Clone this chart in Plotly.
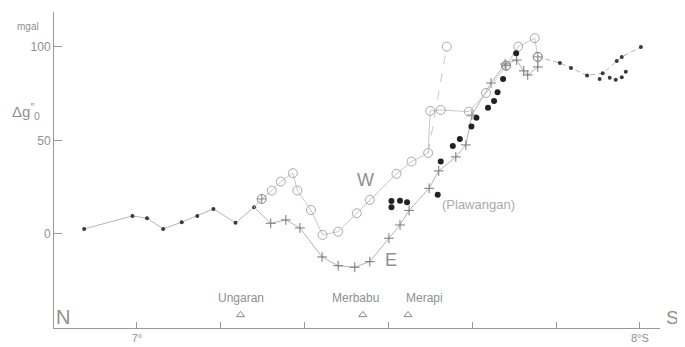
import plotly.graph_objects as go

# ---- data (latitude in degrees S, anomaly in mgal) ----
north_lat = [6.895, 6.991, 7.020, 7.052, 7.089, 7.120, 7.152, 7.196, 7.233]
north_g = [2.7, 9.6, 8.4, 2.7, 6.3, 9.6, 13.4, 6.0, 14.3]

e_lat = [7.266, 7.296, 7.324, 7.368, 7.400, 7.433, 7.463, 7.501, 7.523, 7.541,
         7.581, 7.600, 7.634, 7.654, 7.666, 7.704, 7.732, 7.755, 7.769, 7.777, 7.797]
e_g = [5.7, 7.5, 3.2, -12.3, -17.0, -17.8, -14.8, -2.3, 4.8, 12.6,
       24.4, 33.7, 41.2, 47.6, 63.6, 80.7, 90.9, 93.0, 87.2, 85.0, 89.3]

w_lat = [7.268, 7.286, 7.310, 7.319, 7.346, 7.369, 7.400, 7.437, 7.463, 7.516, 7.546, 7.579]
w_g = [23.2, 28.0, 32.5, 23.2, 12.8, -0.5, 1.2, 11.1, 18.2, 32.2, 38.7, 43.3]

w_dash_lat = [7.579, 7.616]
w_dash_g = [43.3, 100.2]

w_branch_lat = [7.583, 7.604, 7.660, 7.694, 7.734, 7.758, 7.791, 7.797]
w_branch_g = [65.8, 66.3, 65.4, 75.4, 90.0, 100.2, 104.7, 94.7]

both_lat = [7.248, 7.734, 7.797]
both_g = [18.7, 90.0, 94.7]

south_lat = [7.797, 7.841, 7.863, 7.895, 7.926, 7.954, 7.964, 8.002]
south_g = [94.7, 91.4, 88.8, 84.8, 85.9, 92.5, 94.7, 100.0]

south2_lat = [7.920, 7.940, 7.952, 7.964, 7.972]
south2_g = [82.9, 83.6, 82.4, 83.8, 86.8]

big_lat = [7.506, 7.506, 7.523, 7.537, 7.598, 7.604, 7.628, 7.642, 7.665, 7.675,
           7.698, 7.710, 7.717, 7.728, 7.754]
big_g = [17.6, 14.3, 17.8, 17.0, 20.9, 38.7, 47.1, 50.8, 57.4, 62.2,
         67.5, 71.1, 75.8, 82.9, 96.6]

volc_names = ["Ungaran", "Merbabu", "Merapi"]
volc_lat = [7.206, 7.449, 7.539]
volc_label_lat = [7.206, 7.435, 7.572]

x_tickvals = [7 + k / 6 for k in range(7)]
x_ticktext = ["7°", "", "", "", "", "", "8°S"]
y_tickvals = [0, 50, 100]
y_ticktext = ["0", "50", "100"]

LINE = "#b5b5b5"
WLINE = "#c8c8c8"
DOT = "#3a3a3a"
TXT = "#8f8f8f"
FONT = "Liberation Sans"

fig = go.Figure()

# north series
fig.add_trace(go.Scatter(x=north_lat, y=north_g, mode="lines+markers",
                         line=dict(color=LINE, width=1),
                         marker=dict(size=4, color=DOT)))
# E line (starts at end of north series)
fig.add_trace(go.Scatter(x=[north_lat[-1]] + e_lat + [both_lat[-1]],
                         y=[north_g[-1]] + e_g + [both_g[-1]], mode="lines",
                         line=dict(color=LINE, width=1)))
fig.add_trace(go.Scatter(x=e_lat, y=e_g, mode="markers",
                         marker=dict(symbol="cross-thin-open", size=7, color="#777",
                                     line=dict(color="#777", width=1))))
# W line
fig.add_trace(go.Scatter(x=[north_lat[-1], both_lat[0]] + w_lat,
                         y=[north_g[-1], both_g[0]] + w_g, mode="lines",
                         line=dict(color=WLINE, width=1)))
fig.add_trace(go.Scatter(x=w_lat, y=w_g, mode="markers",
                         marker=dict(symbol="circle-open", size=9,
                                     color="#aaa", line=dict(width=1))))
fig.add_trace(go.Scatter(x=w_dash_lat, y=w_dash_g, mode="lines",
                         line=dict(color=WLINE, width=1, dash="dash")))
fig.add_trace(go.Scatter(x=w_dash_lat[1:], y=w_dash_g[1:], mode="markers",
                         marker=dict(symbol="circle-open", size=9,
                                     color="#aaa", line=dict(width=1))))
fig.add_trace(go.Scatter(x=[w_lat[-1]] + w_branch_lat, y=[w_g[-1]] + w_branch_g,
                         mode="lines", line=dict(color=WLINE, width=1)))
fig.add_trace(go.Scatter(x=w_branch_lat, y=w_branch_g, mode="markers",
                         marker=dict(symbol="circle-open", size=9,
                                     color="#aaa", line=dict(width=1))))
# junction points
fig.add_trace(go.Scatter(x=both_lat, y=both_g, mode="markers",
                         marker=dict(symbol="circle-cross-open", size=9,
                                     color="#888", line=dict(width=1))))
# south series
fig.add_trace(go.Scatter(x=south_lat, y=south_g, mode="lines",
                         line=dict(color=LINE, width=1, dash="5px,3px")))
fig.add_trace(go.Scatter(x=south_lat[1:], y=south_g[1:], mode="markers",
                         marker=dict(size=4, color=DOT)))
fig.add_trace(go.Scatter(x=south2_lat, y=south2_g, mode="markers",
                         marker=dict(size=4, color=DOT)))
# big dots
fig.add_trace(go.Scatter(x=big_lat, y=big_g, mode="markers",
                         marker=dict(size=6, color="#222")))
# volcanoes
fig.add_trace(go.Scatter(x=volc_lat, y=[-43.3] * 3, mode="markers",
                         marker=dict(symbol="triangle-up-open", size=7,
                                     color="#888", line=dict(width=1))))
for name, lx in zip(volc_names, volc_label_lat):
    fig.add_annotation(x=lx, y=-34.2, text=name, showarrow=False,
                       xanchor="center", yanchor="middle",
                       font=dict(size=12, color=TXT, family=FONT))


def px(xp):
    return (xp - 54) / 606


def py(yp):
    return (328 - yp) / 316


ann = [
    ("mgal", 28, 26, 10),
    ("Δg<sup>″</sup><sub>0</sub>", 26, 111, 15),
    ("N", 63, 317, 20),
    ("S", 672, 317, 19),
    ("W", 365, 180, 18),
    ("E", 391, 260, 18),
]
for t, xx, yy, s in ann:
    fig.add_annotation(xref="paper", yref="paper", x=px(xx), y=py(yy), text=t,
                       showarrow=False, xanchor="center", yanchor="middle",
                       font=dict(size=s, color=TXT, family=FONT))
fig.add_annotation(x=7.602, y=15.5, text="(Plawangan)", showarrow=False,
                   xanchor="left", yanchor="middle",
                   font=dict(size=13, color="#aaa", family=FONT))

# the page body has an 8px margin, so the figure is 8px smaller and shifted
fig.update_layout(
    width=677, height=339, showlegend=False,
    paper_bgcolor="white", plot_bgcolor="white",
    margin=dict(l=46, r=25, t=4, b=19, autoexpand=False),
    font=dict(family=FONT, color=TXT),
)
fig.update_xaxes(range=[6.835, 8.040], showgrid=False, zeroline=False,
                 showline=True, linecolor="#999", linewidth=1, automargin=False,
                 tickmode="array", tickvals=x_tickvals, ticktext=x_ticktext,
                 ticks="inside", ticklen=6, tickcolor="#999",
                 tickfont=dict(size=11, color=TXT))
fig.update_yaxes(range=[-50.3, 118.7], showgrid=False, zeroline=False,
                 showline=True, linecolor="#999", linewidth=1, automargin=False,
                 tickmode="array", tickvals=y_tickvals, ticktext=y_ticktext,
                 ticks="inside", ticklen=8, tickcolor="#999",
                 tickfont=dict(size=12, color=TXT))

fig.write_html("out.html")
